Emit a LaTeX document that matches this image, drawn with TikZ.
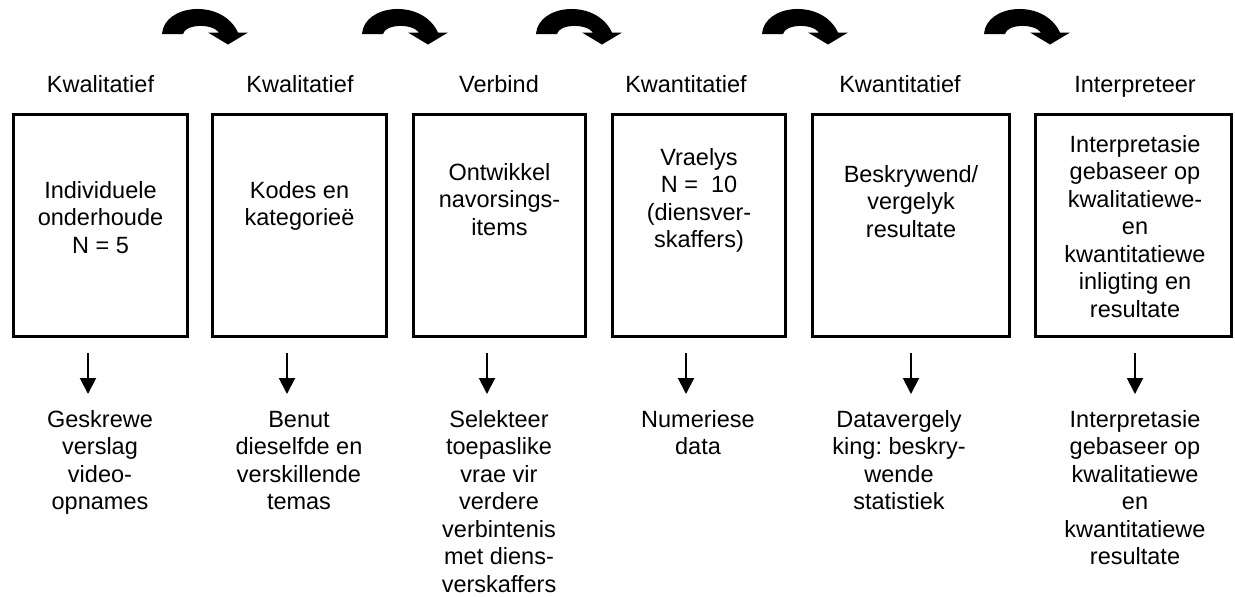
\documentclass[tikz,border=0pt]{standalone}
\usepackage{fontspec}
\setmainfont{Liberation Sans}
\frenchspacing
\usetikzlibrary{arrows.meta}
\tikzset{
  blok/.style={draw,line width=1.5pt,minimum height=111pt,minimum width=#1,inner sep=0pt},
  blok/.default=87pt,
  tekst/.style={align=center,anchor=base,inner sep=0pt},
  afpyl/.style={->,line width=1pt,shorten <=7.5pt}
}
\begin{document}
\begin{tikzpicture}[x=0.5pt,y=-0.5pt,>={Triangle[width=8pt,length=8pt]},font=\fontsize{11.75}{13.75}\selectfont]
\useasboundingbox (0,0) rectangle (1235,596);
\foreach \x in {162,362,536,762,984}
  \fill[shift={(\x,34)}] (0,0) .. controls (2,-30) and (60,-36) .. (76,-1.5) -- (86,-1.5) -- (66,10.5) -- (46,-1.5) -- (57,-1.5) .. controls (50,-11) and (23,-10) .. (21,0) -- cycle;
\node[tekst] (fase1) at (100.5,92) {Kwalitatief};
\node[tekst] (fase2) at (300,92) {Kwalitatief};
\node[tekst] (fase3) at (499,92) {Verbind};
\node[tekst] (fase4) at (686,92) {Kwantitatief};
\node[tekst] (fase5) at (900,92) {Kwantitatief};
\node[tekst] (fase6) at (1135,92) {Interpreteer};
\node[blok] (blok1) at (100.5,225.5) {};
\node[blok] (blok2) at (299.5,225.5) {};
\node[blok=86pt] (blok3) at (499.5,225.5) {};
\node[blok=86.5pt] (blok4) at (699,225.5) {};
\node[blok=98.5pt] (blok5) at (911,225.5) {};
\node[blok=98pt] (blok6) at (1133.5,225.5) {};
\node[tekst] (inh1) at (100.5,253) {Individuele\\onderhoude\\N = 5};
\node[tekst] (inh2) at (299.5,225.5) {Kodes en\\kategorieë};
\node[tekst] (inh3) at (499.5,235) {Ontwikkel\\navorsings-\\items};
\node[tekst] (inh4) at (699,247.5) {Vraelys\\N =\ \ 10\\(diensver-\\skaffers)};
\node[tekst] (inh5) at (911,237) {Beskrywend/\\vergelyk\\resultate};
\node[tekst] (inh6) at (1135,317) {Interpretasie\\gebaseer op\\kwalitatiewe-\\en\\kwantitatiewe\\inligting en\\resultate};
\node[tekst] (uit1) at (100,509.5) {Geskrewe\\verslag\\video-\\opnames};
\node[tekst] (uit2) at (299,509.5) {Benut\\dieselfde en\\verskillende\\temas};
\node[tekst] (uit3) at (499,592) {Selekteer\\toepaslike\\vrae vir\\verdere\\verbintenis\\met diens-\\verskaffers};
\node[tekst] (uit4) at (698,454.5) {Numeriese\\data};
\node[tekst] (uit5) at (899,509.5) {Datavergely\\king: beskry-\\wende\\statistiek};
\node[tekst] (uit6) at (1135,564.5) {Interpretasie\\gebaseer op\\kwalitatiewe\\en\\kwantitatiewe\\resultate};
\coordinate (p1) at (88,394);
\coordinate (p2) at (287,394);
\coordinate (p3) at (487,394);
\coordinate (p4) at (686,394);
\coordinate (p5) at (911,394);
\coordinate (p6) at (1135,394);
\draw[afpyl] (blok1.south -| p1) -- (p1);
\draw[afpyl] (blok2.south -| p2) -- (p2);
\draw[afpyl] (blok3.south -| p3) -- (p3);
\draw[afpyl] (blok4.south -| p4) -- (p4);
\draw[afpyl] (blok5.south -| p5) -- (p5);
\draw[afpyl] (blok6.south -| p6) -- (p6);
\end{tikzpicture}
\end{document}
